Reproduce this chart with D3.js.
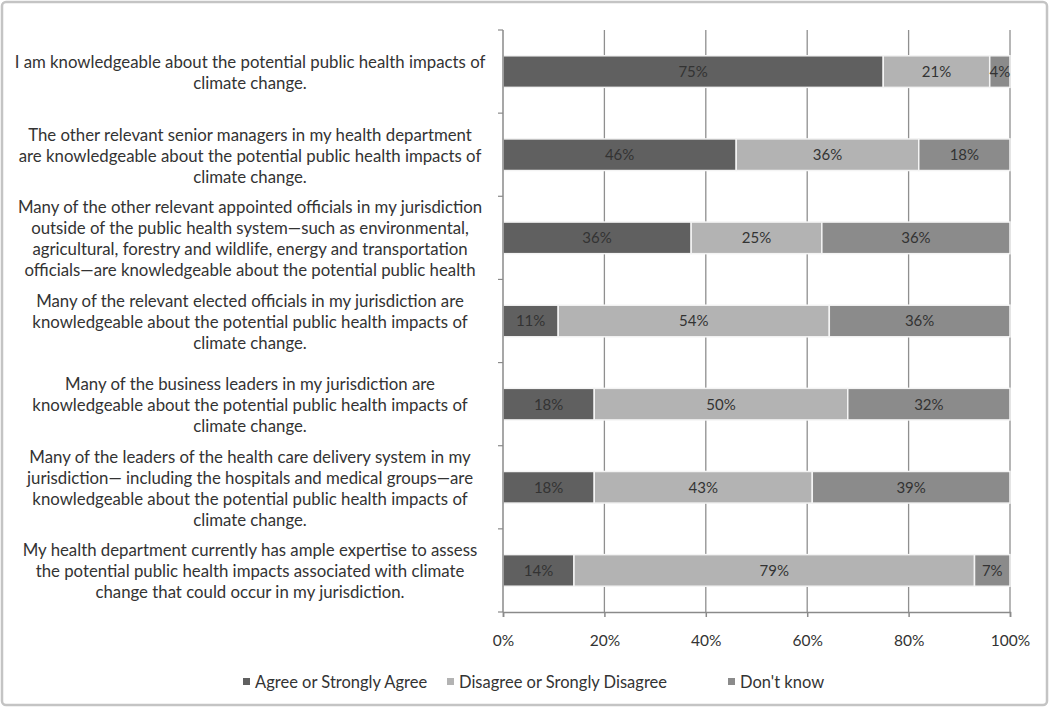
<!DOCTYPE html>
<html>
<head>
<meta charset="utf-8">
<script src="https://cdn.jsdelivr.net/npm/d3@7"></script>
<style>
  html, body { margin: 0; padding: 0; background: #fff; }
  svg { display: block; }
  text { font-family: Lato, "Open Sans", sans-serif; fill: #333; }
</style>
</head>
<body>
<svg id="chart" width="1050" height="708"></svg>
<script>
// ---- data ----
const categories = [
  ["I am knowledgeable about the potential public health impacts of", "climate change."],
  ["The other relevant senior managers in my health department", "are knowledgeable about the potential public health impacts of", "climate change."],
  ["Many of the other relevant appointed officials in my jurisdiction", "outside of the public health system\u2014such as environmental,", "agricultural, forestry and wildlife, energy and transportation", "officials\u2014are knowledgeable about the potential public health"],
  ["Many of the relevant elected officials in my jurisdiction are", "knowledgeable about the potential public health impacts of", "climate change."],
  ["Many of the business leaders in my jurisdiction are", "knowledgeable about the potential public health impacts of", "climate change."],
  ["Many of the leaders of the health care delivery system in my", "jurisdiction\u2014 including the hospitals and medical groups\u2014are", "knowledgeable about the potential public health impacts of", "climate change."],
  ["My health department currently has ample expertise to assess", "the potential public health impacts associated with climate", "change that could occur in my jurisdiction."]
];
const seriesNames = ["Agree or Strongly Agree", "Disagree or Srongly Disagree", "Don't know"];
const agree    = [75, 46, 36, 11, 18, 18, 14];
const disagree = [21, 36, 25, 54, 50, 43, 79];
const dontKnow = [4, 18, 36, 36, 32, 39, 7];
const tickValues = [0, 0.2, 0.4, 0.6, 0.8, 1.0];
const colors = ["#606060", "#b3b3b3", "#8b8b8b"];

// ---- layout ----
const svg = d3.select("#chart");
const W = 1050, H = 708;
const margin = { left: 503 };
const plotW = 1010 - margin.left;
const plotTop = 30, plotBottom = 612;

svg.append("rect")
  .attr("x", 2).attr("y", 2).attr("width", W - 5).attr("height", H - 5)
  .attr("rx", 4).attr("fill", "#fff").attr("stroke", "#c4c4c4").attr("stroke-width", 2.5);

const rows = categories.map((c, i) => ({ idx: i, agree: agree[i], disagree: disagree[i], dontKnow: dontKnow[i] }));
const keys = ["agree", "disagree", "dontKnow"];
const stacked = d3.stack().keys(keys).offset(d3.stackOffsetExpand)(rows);

const x = d3.scaleLinear().domain([0, 1]).range([margin.left, margin.left + plotW]);
const y = d3.scaleBand().domain(d3.range(categories.length)).range([plotTop, plotBottom]).paddingInner(0.62).paddingOuter(0.31);
const band = d3.scaleBand().domain(d3.range(categories.length)).range([plotTop, plotBottom]);

// gridlines
svg.append("g").selectAll("line").data(tickValues.slice(1)).join("line")
  .attr("x1", d => x(d)).attr("x2", d => x(d))
  .attr("y1", plotTop).attr("y2", plotBottom)
  .attr("stroke", "#8f8f8f").attr("stroke-width", 1.3);

// bars
const groups = svg.append("g").selectAll("g").data(stacked).join("g")
  .attr("fill", (d, i) => colors[i]);
groups.selectAll("rect").data(d => d).join("rect")
  .attr("x", d => x(d[0]))
  .attr("width", d => x(d[1]) - x(d[0]))
  .attr("y", (d, i) => y(i))
  .attr("height", y.bandwidth())
  .attr("stroke", "#f4f4f4").attr("stroke-width", 1.5);

// bar value labels
stacked.forEach((s) => {
  svg.append("g").selectAll("text").data(s).join("text")
    .attr("x", d => (x(d[0]) + x(d[1])) / 2)
    .attr("y", (d, i) => y(i) + y.bandwidth() / 2)
    .attr("dy", "0.36em")
    .attr("text-anchor", "middle")
    .attr("font-size", 15)
    .attr("fill", "#2e2e2e")
    .text(d => d.data[s.key] + "%");
});

// x axis
const xAxis = d3.axisBottom(x).tickValues(tickValues).tickFormat(d3.format(".0%")).tickSize(5).tickPadding(18);
const gx = svg.append("g").attr("transform", `translate(0,${plotBottom})`).call(xAxis);
gx.select(".domain").attr("stroke", "#8a8a8a").attr("stroke-width", 1.5);
gx.selectAll(".tick line").attr("stroke", "#8a8a8a").attr("stroke-width", 1.5);
gx.selectAll(".tick text").attr("font-size", 15.5).attr("fill", "#333").style("font-family", "Lato, 'Open Sans', sans-serif");

// y axis
const gy = svg.append("g").attr("transform", `translate(${margin.left},0)`);
gy.append("line").attr("x1", 0).attr("x2", 0).attr("y1", plotTop).attr("y2", plotBottom)
  .attr("stroke", "#8a8a8a").attr("stroke-width", 1.5);
gy.selectAll("line.tk").data(d3.range(categories.length + 1)).join("line").attr("class", "tk")
  .attr("x1", -5).attr("x2", 0)
  .attr("y1", d => plotTop + d * band.step()).attr("y2", d => plotTop + d * band.step())
  .attr("stroke", "#8a8a8a").attr("stroke-width", 1.2);

// category labels
const lineH = 21;
const labelX = 250;
categories.forEach((lines, i) => {
  const cy = y(i) + y.bandwidth() / 2 + 1;
  const t = svg.append("text").attr("text-anchor", "middle").attr("font-size", 16.8);
  const y0 = cy - (lines.length - 1) * lineH / 2;
  lines.forEach((ln, j) => {
    t.append("tspan").attr("x", labelX).attr("y", y0 + j * lineH).attr("dy", "0.36em").text(ln);
  });
});

// legend
const legendX = [243, 447, 728];
const lg = svg.append("g").selectAll("g").data(seriesNames).join("g")
  .attr("transform", (d, i) => `translate(${legendX[i]},682)`);
lg.append("rect").attr("x", 0).attr("y", -4).attr("width", 7).attr("height", 7).attr("fill", (d, i) => colors[i]);
lg.append("text").attr("x", 12).attr("dy", "0.36em").attr("font-size", 16.5).text(d => d);
</script>
</body>
</html>
